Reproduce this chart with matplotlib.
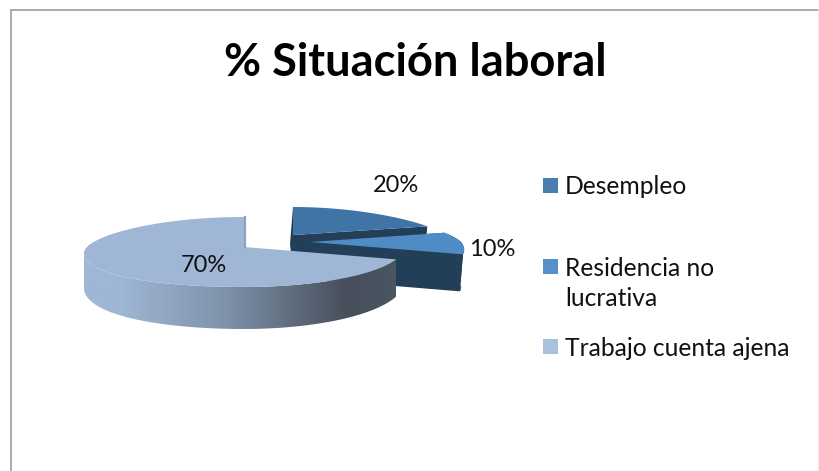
#!/usr/bin/env python3
"""Tarta 3D de situacion laboral, dibujada a mano en coordenadas de pixel"""

import numpy as np
import matplotlib
matplotlib.use('Agg')
import matplotlib.pyplot as plt
from matplotlib.colors import LinearSegmentedColormap
from matplotlib.patches import Polygon, Rectangle

title = '% Situación laboral'
categories = ['Desempleo', 'Residencia no\nlucrativa', 'Trabajo cuenta ajena']
percent = [20, 10, 70]

top_colors = ['#4174a6', '#4f8bc4', '#9fb7d5']
side_color = '#233e57'
legend_colors = ['#4a7eb0', '#5590c8', '#a9c0df']

W, H = 819, 471
plt.rcParams['font.family'] = ['Lato', 'DejaVu Sans']


def project(angle, slice_geo):
    """Angulo (grados, horario desde las 12) a pixel sobre la cara superior"""
    t = np.radians(angle)
    cx, cy, a, b_up, b_down, k, sag = slice_geo
    s = -np.cos(t)  # >0 hacia el espectador
    x = cx + a * (1 + k * s) * np.sin(t)
    y = cy + s * np.where(s < 0, b_up, b_down)
    y = y + sag * np.where(np.sin(t) < 0, np.sin(t) ** 2, 0)
    return x, y


def wedge_top(a0, a1, slice_geo):
    ang = np.linspace(a0, a1, 200)
    x, y = project(ang, slice_geo)
    return np.vstack([[slice_geo[0], slice_geo[1]], np.column_stack([x, y])])


def radial_face(angle, slice_geo, depth):
    x, y = project(np.array([angle]), slice_geo)
    cx, cy = slice_geo[:2]
    return [(cx, cy), (x[0], y[0]), (x[0] - 3, y[0] + depth), (cx, cy + depth)]


def rim_face(a0, a1, slice_geo, depth, grow=0, inset=0):
    ang = np.linspace(a0, a1, 200)
    x, y = project(ang, slice_geo)
    d = depth + grow * np.clip(-np.cos(np.radians(ang)), 0, 1)
    return np.vstack([np.column_stack([x, y]), np.column_stack([x - inset, y + d])[::-1]])


fig = plt.figure(figsize=(W / 100, H / 100), dpi=100)
ax = fig.add_axes([0, 0, 1, 1])
ax.set_xlim(0, W)
ax.set_ylim(H, 0)
ax.axis('off')

# marco del grafico
ax.plot([11, 11], [H, 10], color='#a6a6a6', lw=1.3)
ax.plot([11, W], [10, 10], color='#a6a6a6', lw=1.3)
ax.plot([W - 1, W - 1], [10, H], color='#eeeeee', lw=1)

# limites de cada porcion, en grados desde las 12 en sentido horario
edges = np.cumsum([0] + percent) * 3.6
geo_des = (293, 235, 151, 28, 40, 0.21, 0)
geo_res = (310, 242, 151, 30, 40, 0.21, 0)
geo_tra = (244, 247, 160, 30, 40, 0.0, 6)
depth = 37

# Desempleo
ax.add_patch(Polygon(radial_face(edges[1], geo_des, depth), fc=side_color, ec='none', zorder=2))
ax.add_patch(Polygon(radial_face(edges[0], geo_des, depth), fc=side_color, ec='none', zorder=2))
ax.add_patch(Polygon(wedge_top(edges[0], edges[1], geo_des), fc=top_colors[0], ec='none', zorder=3))

# Residencia no lucrativa
ax.add_patch(Polygon(radial_face(edges[1], geo_res, depth), fc=side_color, ec='none', zorder=4))
ax.add_patch(Polygon(radial_face(edges[2], geo_res, depth), fc=side_color, ec='none', zorder=4))
ax.add_patch(Polygon(rim_face(edges[1], edges[2], geo_res, depth, inset=3), fc=side_color, ec='none', zorder=4))
ax.add_patch(Polygon(wedge_top(edges[1], edges[2], geo_res), fc=top_colors[1], ec='none', zorder=5))

# Trabajo cuenta ajena: lateral con degradado
rim = Polygon(rim_face(edges[2], 270, geo_tra, depth - 2, grow=7), fc='none', ec='none', zorder=6)
ax.add_patch(rim)
cmap = LinearSegmentedColormap.from_list('lado', [(0, '#9fb7d5'), (0.12, '#9fb7d5'), (0.45, '#7f93ab'),
                                                  (0.85, '#464e5a'), (1, '#4b5663')])
grad = np.linspace(0, 1, 256).reshape(1, -1)
im = ax.imshow(grad, cmap=cmap, extent=(82, 396, 340, 240), aspect='auto', zorder=6)
im.set_clip_path(rim)
ax.set_xlim(0, W)
ax.set_ylim(H, 0)

ax.add_patch(Polygon(wedge_top(edges[2], edges[3], geo_tra), fc=top_colors[2], ec='none', zorder=7))
x_start, y_start = project(np.array([edges[3]]), geo_tra)
ax.plot([x_start[0] + 1, geo_tra[0] + 1], [y_start[0], geo_tra[1]], color='#8ba3bf', lw=1.6, zorder=8)

# etiquetas de datos
label_pos = [(396, 186), (492, 250), (204, 266)]
for value, (lx, ly) in zip(percent, label_pos):
    ax.text(lx, ly, f'{value}%', fontsize=17, color='#111111', ha='center', va='center', zorder=9)

# leyenda
legend_y = [185.5, 266.5, 346.5]
for name, col, ly in zip(categories, legend_colors, legend_y):
    ax.add_patch(Rectangle((543, ly - 7.5), 15, 15, fc=col, ec='none'))
    ax.text(565, ly - 10, name, fontsize=17.7, color='#111111', ha='left', va='top', linespacing=1.38)

ax.text(415, 63, title, fontsize=32.6, fontweight='bold', color='#000000', ha='center', va='center')

plt.savefig('out.png', dpi=100)
